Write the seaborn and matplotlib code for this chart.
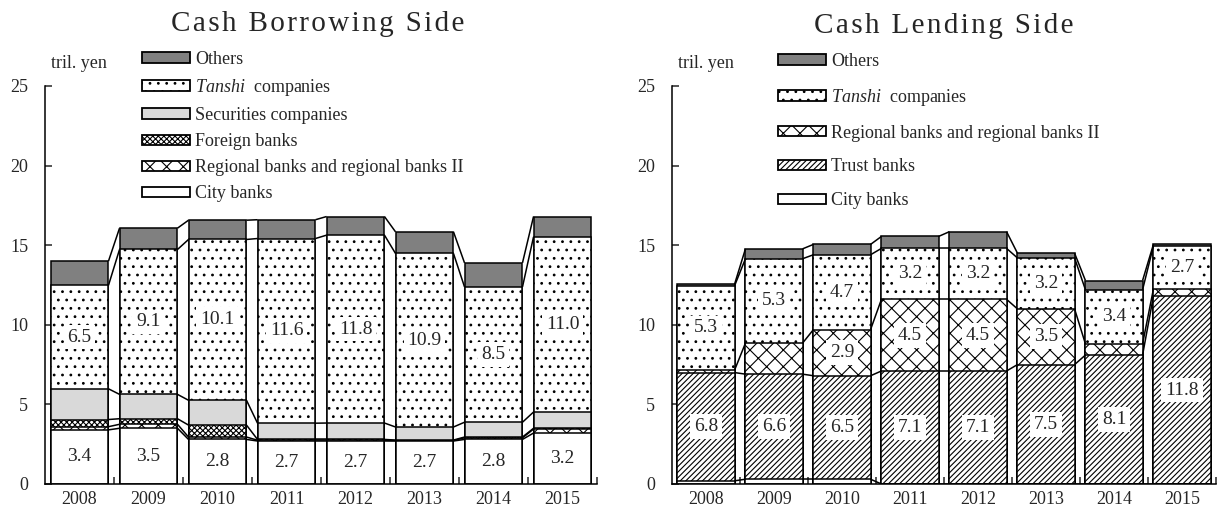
import numpy as np
import pandas as pd
import matplotlib
matplotlib.use('Agg')
import matplotlib.pyplot as plt
from matplotlib.patches import Patch
import seaborn as sns

years = ['2008', '2009', '2010', '2011', '2012', '2013', '2014', '2015']

# Cash borrowing side (tril. yen)
b_city = [3.4, 3.5, 2.8, 2.7, 2.7, 2.7, 2.8, 3.2]
b_regional = [0.2, 0.25, 0.15, 0.05, 0.05, 0.03, 0.1, 0.25]
b_foreign = [0.45, 0.35, 0.75, 0.05, 0.05, 0.03, 0.05, 0.05]
b_securities = [1.93, 1.53, 1.56, 1.02, 1.03, 0.82, 0.93, 1.02]
b_tanshi = [6.5, 9.1, 10.1, 11.6, 11.8, 10.9, 8.5, 11.0]
b_others = [1.52, 1.34, 1.21, 1.18, 1.17, 1.36, 1.51, 1.28]

# Cash lending side (tril. yen)
l_city = [0.2, 0.3, 0.3, 0.0, 0.0, 0.0, 0.0, 0.0]
l_trust = [6.8, 6.6, 6.5, 7.1, 7.1, 7.5, 8.1, 11.8]
l_regional = [0.15, 1.95, 2.9, 4.5, 4.5, 3.5, 0.7, 0.45]
l_tanshi = [5.3, 5.3, 4.7, 3.2, 3.2, 3.2, 3.4, 2.7]
l_others = [0.1, 0.62, 0.65, 0.75, 1.05, 0.3, 0.58, 0.1]

sns.set_style("ticks")
plt.rcParams['font.family'] = ['Liberation Serif', 'DejaVu Serif']
plt.rcParams['mathtext.fontset'] = 'custom'
plt.rcParams['mathtext.rm'] = 'Liberation Serif'
plt.rcParams['mathtext.it'] = 'Liberation Serif:italic'
plt.rcParams['hatch.linewidth'] = 0.8

STYLE = {
    'Others': dict(color='#808080', hatch=None),
    'Tanshi': dict(color='white', hatch='..'),
    'Securities': dict(color='#d9d9d9', hatch=None),
    'Foreign': dict(color='white', hatch='xxxxxx'),
    'Regional': dict(color='white', hatch='xx'),
    'Trust': dict(color='white', hatch='//////'),
    'City': dict(color='white', hatch=None),
}
NAMES = {
    'Others': 'Others',
    'Tanshi': r'$\it{Tanshi}$  companies',
    'Securities': 'Securities companies',
    'Foreign': 'Foreign banks',
    'Regional': 'Regional banks and regional banks II',
    'Trust': 'Trust banks',
    'City': 'City banks',
}
W = 0.84


def stacked(ax, layers, labels):
    # layers: list of (key, values) from bottom to top
    df = pd.DataFrame({k: v for k, v in layers}, index=years)
    cum = df.cumsum(axis=1)
    keys = [k for k, _ in layers]
    # draw tallest first so each lower stack covers the one above it
    for k in reversed(keys):
        st = STYLE[k]
        sns.barplot(x=years, y=cum[k].values, ax=ax, color=st['color'],
                    saturation=1, width=W, edgecolor='black', linewidth=1.1,
                    hatch=st['hatch'], errorbar=None)
    # connector lines between neighbouring bars
    for k in keys:
        c = cum[k].values
        for i in range(len(years) - 1):
            ax.plot([i + W / 2, i + 1 - W / 2], [c[i], c[i + 1]],
                    color='black', lw=1.1, solid_capstyle='butt')
    # value labels
    for k, flags in labels.items():
        vals = df[k].values
        base = cum[k].values - vals
        for i, v in enumerate(vals):
            if flags[i]:
                ax.text(i, base[i] + v / 2, f'{v:.1f}', ha='center', va='center',
                        fontsize=14,
                        bbox=dict(boxstyle='square,pad=0.2', fc='white', ec='none'))

    ax.set_xlim(-0.5, len(years) - 0.5)
    ax.set_ylim(0, 25)
    ax.set_yticks(range(0, 26, 5))
    ax.tick_params(axis='y', direction='in', length=5, width=1.1,
                   labelsize=13, pad=12)
    ax.tick_params(axis='x', which='major', length=0, labelsize=13, pad=5)
    ax.set_xticks(np.arange(0.5, len(years), 1.0), minor=True)
    ax.tick_params(axis='x', which='minor', direction='in', length=5, width=1.1)
    ax.set_xlabel('')
    ax.set_ylabel('')
    sns.despine(ax=ax)
    for s in ['left', 'bottom']:
        ax.spines[s].set_linewidth(1.1)
        ax.spines[s].set_color('black')


def legend(fig, keys, x, y, spacing):
    handles = [Patch(facecolor=STYLE[k]['color'], hatch=STYLE[k]['hatch'],
                     edgecolor='black', linewidth=1.3) for k in keys]
    fig.legend(handles, [NAMES[k] for k in keys], loc='upper left',
               bbox_to_anchor=(x / 1219, 1 - y / 514), frameon=False,
               fontsize=13, handlelength=2.65, handleheight=0.5,
               handletextpad=0.3, labelspacing=spacing,
               borderpad=0, borderaxespad=0)


fig = plt.figure(figsize=(12.19, 5.14), dpi=100)
ax1 = fig.add_axes([45 / 1219, 30 / 514, 552 / 1219, 398 / 514])
ax2 = fig.add_axes([672 / 1219, 30 / 514, 544 / 1219, 398 / 514])

stacked(ax1,
        [('City', b_city), ('Regional', b_regional), ('Foreign', b_foreign),
         ('Securities', b_securities), ('Tanshi', b_tanshi), ('Others', b_others)],
        {'City': [True] * 8, 'Tanshi': [True] * 8})
stacked(ax2,
        [('City', l_city), ('Trust', l_trust), ('Regional', l_regional),
         ('Tanshi', l_tanshi), ('Others', l_others)],
        {'Trust': [True] * 8,
         'Regional': [False, False, True, True, True, True, False, False],
         'Tanshi': [True] * 8})

hs = '\u200a'
fig.text(318 / 1219, 1 - 24 / 514, hs.join('Cash Borrowing Side'),
         ha='center', va='center', fontsize=21)
fig.text(944 / 1219, 1 - 26 / 514, hs.join('Cash Lending Side'),
         ha='center', va='center', fontsize=21)
fig.text(79 / 1219, 1 - 64 / 514, 'tril. yen', ha='center', va='center', fontsize=13)
fig.text(706 / 1219, 1 - 64 / 514, 'tril. yen', ha='center', va='center', fontsize=13)

legend(fig, ['Others', 'Tanshi', 'Securities', 'Foreign', 'Regional', 'City'],
       142, 51, 0.5)
legend(fig, ['Others', 'Tanshi', 'Regional', 'Trust', 'City'], 778, 53, 0.93)

fig.savefig('out.png', dpi=100)
